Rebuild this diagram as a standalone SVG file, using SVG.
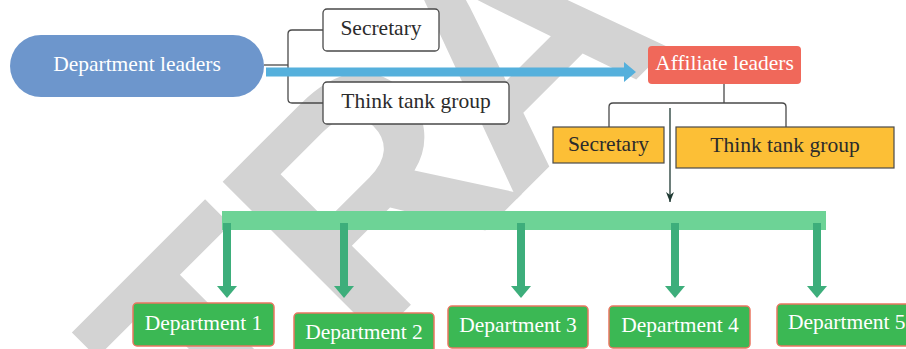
<svg xmlns="http://www.w3.org/2000/svg" width="906" height="349" viewBox="0 0 906 349">
  <style>
    .lbl { font-family: "Liberation Serif", "DejaVu Serif", serif; font-size: 21.5px; text-anchor: middle; }
    .light { fill: #ffffff; }
    .dark { fill: #2b2b2b; }
    .plain { fill: #ffffff; stroke: #4a4a4a; stroke-width: 1.3; }
    .yellow { fill: #fcbf36; stroke: #4a4a4a; stroke-width: 1.2; }
    .dept { fill: #3bb854; stroke: #ea7660; stroke-width: 1.5; }
    .tree { fill: none; stroke: #4a4a4a; stroke-width: 1.3; }
    .drop { fill: none; stroke: #3dae7b; stroke-width: 8; }
    .watermark { font-family: "Liberation Sans", "DejaVu Sans", sans-serif; font-weight: bold; font-size: 320px; fill: #d3d3d3; }
  </style>
  <defs>
    <marker id="dropHead" viewBox="0 0 20 12" refX="10" refY="0" markerWidth="20" markerHeight="12" markerUnits="userSpaceOnUse" orient="0">
      <path d="M0,0 L20,0 L10,12 Z" fill="#3dae7b"/>
    </marker>
    <marker id="thinHead" viewBox="0 0 8 10" refX="4" refY="10" markerWidth="8" markerHeight="10" markerUnits="userSpaceOnUse" orient="0">
      <path d="M0,0 L4,10 L8,0 L4,3 Z" fill="#1f3a33"/>
    </marker>
  </defs>

  <rect width="906" height="349" fill="#ffffff"/>

  <!-- background stamp, set diagonally behind the chart -->
  <text class="watermark" x="225" y="490.7" dx="0 0 -22" transform="rotate(-45 225 490.7)">TRA</text>

  <g id="connectors">
    <!-- left bracket to the two staff boxes -->
    <path class="tree" d="M264,65 H288"/>
    <path class="tree" d="M323,30 H292 Q288,30 288,34 V99 Q288,103 292,103 H323"/>
    <!-- main flow arrow -->
    <path d="M266,67.5 H624 V62 L636,72 L624,82 V76.5 H266 Z" fill="#55b0dc"/>
    <!-- right bracket under affiliate leaders -->
    <path class="tree" d="M724,84 V103"/>
    <path class="tree" d="M609,127 V107 Q609,103 613,103 H782 Q786,103 786,107 V127"/>
    <!-- thin arrow down to the distribution bar -->
    <line x1="670" y1="108" x2="670" y2="202" stroke="#1f3a33" stroke-width="1.3" marker-end="url(#thinHead)"/>
    <!-- distribution bar -->
    <rect x="222" y="211" width="604" height="19" fill="#6dd396"/>
    <!-- drops to departments -->
    <path class="drop" d="M227,223 V286" marker-end="url(#dropHead)"/>
    <path class="drop" d="M344,223 V286" marker-end="url(#dropHead)"/>
    <path class="drop" d="M521,223 V286" marker-end="url(#dropHead)"/>
    <path class="drop" d="M675,223 V286" marker-end="url(#dropHead)"/>
    <path class="drop" d="M817,223 V286" marker-end="url(#dropHead)"/>
  </g>

  <g id="department-leaders">
    <rect x="10" y="35" width="254" height="62" rx="31" fill="#6d96cc"/>
    <text class="lbl light" x="137" y="71">Department leaders</text>
  </g>

  <g id="secretary-top">
    <rect class="plain" x="323" y="9" width="116" height="42" rx="4"/>
    <text class="lbl dark" x="381" y="35">Secretary</text>
  </g>

  <g id="think-tank-top">
    <rect class="plain" x="323" y="82" width="186" height="42" rx="4"/>
    <text class="lbl dark" x="416" y="108">Think tank group</text>
  </g>

  <g id="affiliate-leaders">
    <rect x="648" y="46" width="153" height="38" rx="4" fill="#f0685a"/>
    <text class="lbl light" x="724.5" y="70">Affiliate leaders</text>
  </g>

  <g id="secretary-affiliate">
    <rect class="yellow" x="553" y="127" width="111" height="36"/>
    <text class="lbl dark" x="608.5" y="151">Secretary</text>
  </g>

  <g id="think-tank-affiliate">
    <rect class="yellow" x="676" y="127" width="218" height="41"/>
    <text class="lbl dark" x="785" y="152">Think tank group</text>
  </g>

  <g id="department-1">
    <rect class="dept" x="133" y="303" width="141" height="43" rx="4"/>
    <text class="lbl light" x="203.5" y="330">Department 1</text>
  </g>

  <g id="department-2">
    <rect class="dept" x="294" y="313" width="140" height="43" rx="4"/>
    <text class="lbl light" x="364" y="339">Department 2</text>
  </g>

  <g id="department-3">
    <rect class="dept" x="448" y="306" width="140" height="42" rx="4"/>
    <text class="lbl light" x="518" y="332">Department 3</text>
  </g>

  <g id="department-4">
    <rect class="dept" x="609" y="306" width="141" height="42" rx="4"/>
    <text class="lbl light" x="680" y="332">Department 4</text>
  </g>

  <g id="department-5">
    <rect class="dept" x="777" y="304" width="140" height="42" rx="4"/>
    <text class="lbl light" x="788" y="329" style="text-anchor:start">Department 5</text>
  </g>
</svg>
